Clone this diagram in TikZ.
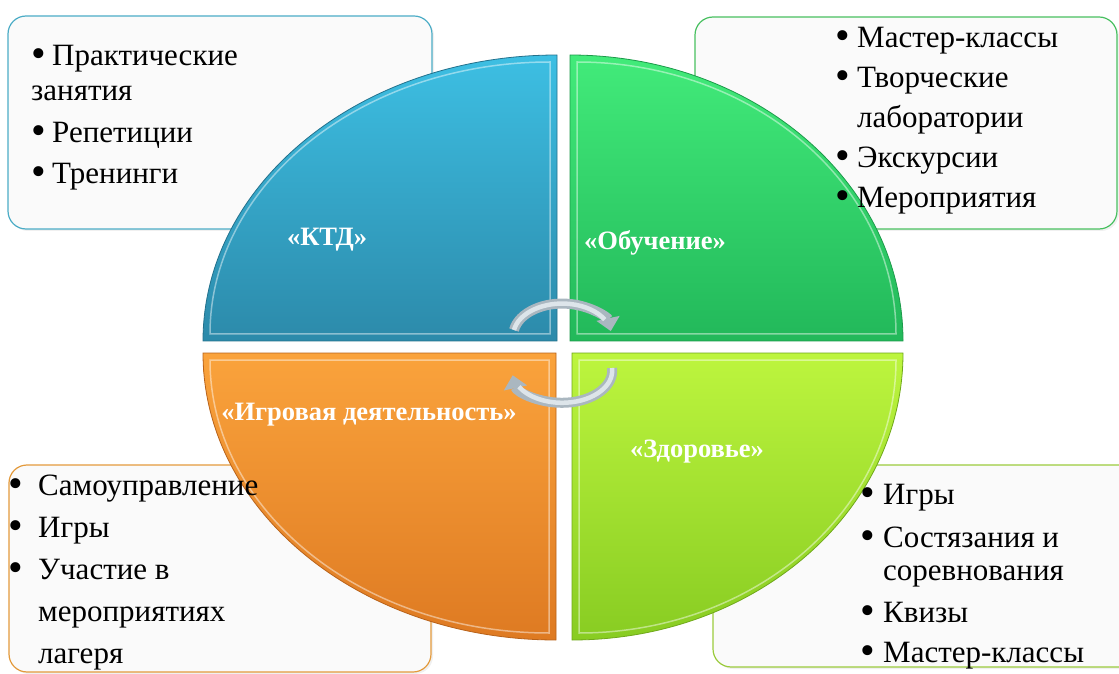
\documentclass[tikz,border=0pt]{standalone}
\usepackage{fontspec}
\usepackage{graphicx}
\setmainfont{Liberation Serif}
\usetikzlibrary{positioning, arrows.meta, shadows}

\definecolor{ktdTop}{HTML}{3DBFE3}
\definecolor{ktdBot}{HTML}{2C8AAA}
\definecolor{ktdEdge}{HTML}{24718C}
\definecolor{ktdLine}{HTML}{4BACC6}
\definecolor{studyTop}{HTML}{42EB7A}
\definecolor{studyBot}{HTML}{22B85A}
\definecolor{studyEdge}{HTML}{1C9A4A}
\definecolor{studyLine}{HTML}{48C060}
\definecolor{gameTop}{HTML}{FAA33C}
\definecolor{gameBot}{HTML}{DE7A22}
\definecolor{gameEdge}{HTML}{B8621A}
\definecolor{gameLine}{HTML}{E39A3C}
\definecolor{healthTop}{HTML}{BDF53E}
\definecolor{healthBot}{HTML}{88CC22}
\definecolor{healthEdge}{HTML}{6FA81A}
\definecolor{healthLine}{HTML}{9BCB3C}
\definecolor{arrowEdge}{HTML}{AAB7C0}
\definecolor{arrowFace}{HTML}{DDE5EA}

\newcommand\bul[1]{\makebox[#1][l]{\raisebox{-2pt}{\scalebox{1.35}{\textbullet}}}}

\begin{document}
\begin{tikzpicture}[x=1pt,y=1pt,
	listbox/.style={draw, line width=1.2pt, rounded corners=18pt, fill=black!2, inner sep=0pt,
		drop shadow={opacity=0.12, shadow xshift=2pt, shadow yshift=-2pt}},
	listtext/.style={anchor=north west, inner sep=0pt, align=left},
	quarter/.style={draw=#1Edge, line width=0.8pt, top color=#1Top, bottom color=#1Bot},
	bevel/.style={draw=white, draw opacity=0.45, line width=1.5pt},
	sectorname/.style={text=white, font=\bfseries\fontsize{26.5}{30}\selectfont},
	cyclearrow/.style={draw=arrowEdge, line width=10pt, -{Triangle[width=23pt,length=13pt]}},
	arrowlight/.style={draw=arrowFace, line width=4.5pt}]
	
	\useasboundingbox (0,0) rectangle (1119,673);
	
	\node[listbox, draw=ktdLine, minimum width=424pt, minimum height=213pt] (ktdbox) at (220,550.5) {};
	\node[listbox, draw=studyLine, minimum width=422pt, minimum height=212pt] (studybox) at (906,550) {};
	\node[listbox, draw=gameLine, minimum width=422pt, minimum height=207pt] (gamebox) at (220,104.5) {};
	\node[listbox, draw=healthLine, minimum width=427pt, minimum height=202pt] (healthbox) at (926.5,107) {};
	
	\path[quarter=ktd] (557,332) -- (203,332) arc[start angle=180, end angle=90, x radius=354pt, y radius=286pt] -- cycle;
	\path[quarter=study] (570,332) -- (570,618) arc[start angle=90, end angle=0, x radius=333pt, y radius=286pt] -- cycle;
	\path[quarter=game] (556,320) -- (203,320) arc[start angle=180, end angle=270, x radius=353pt, y radius=287pt] -- cycle;
	\path[quarter=health] (572,320) -- (903,320) arc[start angle=0, end angle=-90, x radius=331pt, y radius=287pt] -- cycle;
	
	\draw[bevel] (550,339) -- (210,339) arc[start angle=180, end angle=90, x radius=340pt, y radius=272pt] -- cycle;
	\draw[bevel] (577,339) -- (577,611) arc[start angle=90, end angle=0, x radius=319pt, y radius=272pt] -- cycle;
	\draw[bevel] (549,313) -- (210,313) arc[start angle=180, end angle=270, x radius=339pt, y radius=273pt] -- cycle;
	\draw[bevel] (579,313) -- (896,313) arc[start angle=0, end angle=-90, x radius=317pt, y radius=273pt] -- cycle;
	
	\coordinate (cwstart) at (514,343);
	\coordinate (ccwstart) at (612,305);
	\draw[cyclearrow] (cwstart) arc[start angle=170, end angle=8, x radius=49pt, y radius=32pt];
	\draw[arrowlight] (cwstart) arc[start angle=170, end angle=30, x radius=49pt, y radius=32pt];
	\draw[cyclearrow] (ccwstart) arc[start angle=5, end angle=-172, x radius=50pt, y radius=32pt];
	\draw[arrowlight] (ccwstart) arc[start angle=5, end angle=-150, x radius=50pt, y radius=32pt];
	
	\node[sectorname] (ktd) at (327,433) {«КТД»};
	\node[sectorname] (study) at (655,430) {«Обучение»};
	\node[sectorname] (game) at (369,258) {«Игровая деятельность»};
	\node[sectorname] (health) at (697,221) {«Здоровье»};
	
	\node[listtext, font=\fontsize{31}{35}\selectfont] (ktdlist) at (31,631)
		{\rule{0pt}{23pt}\bul{21pt}Практические\\занятия\\[7pt]\bul{21pt}Репетиции\\[6pt]\bul{21pt}Тренинги};
	\node[listtext, font=\fontsize{31}{40}\selectfont] (studylist) at (835,649)
		{\rule{0pt}{23pt}\bul{22pt}Мастер-классы\\\bul{22pt}Творческие\\\hspace*{22pt}лаборатории\\\bul{22pt}Экскурсии\\\bul{22pt}Мероприятия};
	\node[listtext, font=\fontsize{31}{42}\selectfont] (gamelist) at (8,201)
		{\rule{0pt}{23pt}\bul{30pt}Самоуправление\\\bul{30pt}Игры\\\bul{30pt}Участие в\\\hspace*{30pt}мероприятиях\\\hspace*{30pt}лагеря};
	\node[listtext, font=\fontsize{31}{33}\selectfont] (healthlist) at (860,192)
		{\rule{0pt}{23pt}\bul{23pt}Игры\\[10pt]\bul{23pt}Состязания и\\\hspace*{23pt}соревнования\\[9pt]\bul{23pt}Квизы\\[7pt]\bul{23pt}Мастер-классы};
\end{tikzpicture}
\end{document}
